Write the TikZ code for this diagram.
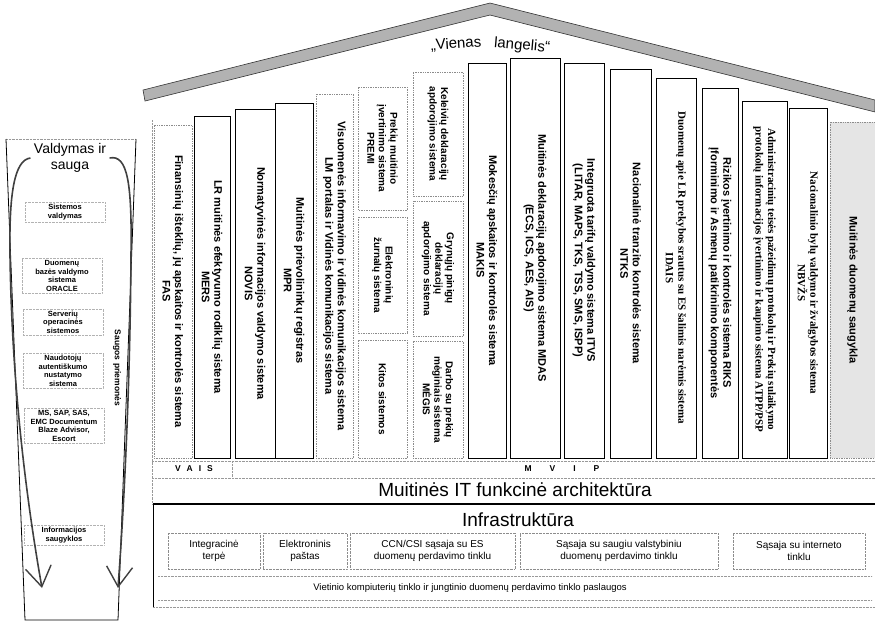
\documentclass[tikz,border=0pt]{standalone}
\usepackage{fontspec}
\setmainfont{Liberation Serif}
\setsansfont{Liberation Sans}
\usetikzlibrary{arrows.meta}
\tikzset{
  sysbox/.style={draw, line width=0.7pt, fill=white, rotate=-90, align=center, inner sep=1pt,
    font=\sffamily\bfseries\fontsize{11}{12.5}\selectfont},
  softbox/.style={sysbox, draw=black!45, densely dotted, line width=0.6pt},
  stackbox/.style={softbox, font=\sffamily\bfseries\fontsize{10}{11.5}\selectfont},
  serifbox/.style={sysbox, font=\rmfamily\bfseries\fontsize{11}{12.5}\selectfont},
  infbox/.style={draw=black!45, densely dotted, align=center, minimum height=36pt,
    font=\sffamily\fontsize{10}{12}\selectfont},
  ctlitem/.style={draw=black!30, densely dotted, align=center, minimum width=80pt, inner sep=2pt,
    font=\sffamily\bfseries\fontsize{7.5}{8.5}\selectfont},
  heading/.style={font=\sffamily\fontsize{19}{22}\selectfont, inner sep=0pt},
  guide/.style={draw=black!40, densely dotted},
  roof/.style={draw=black!80, fill=black!30, line width=0.6pt},
  bigarrow/.style={line width=1.6pt, draw=black!75,
    -{Straight Barb[length=20pt,width=26pt,line width=1.4pt]}},
}
\begin{document}
\begin{tikzpicture}[x=1pt,y=-1pt]
\useasboundingbox (0,0) rectangle (875,633);

% roof
\draw[roof] (143,90) -- (490,3) -- (875,100) -- (875,112) -- (490,15) -- (145,101) -- cycle;
\node[font=\sffamily\fontsize{15}{17}\selectfont, rotate=4] (vienas) at (456,44) {„Vienas};
\node[font=\sffamily\fontsize{15}{17}\selectfont, rotate=-5] (langelis) at (522,46) {langelis“};

% columns
\node[softbox, minimum width=333pt, minimum height=38pt] (fas) at (173,291.5) {Finansinių išteklių, jų apskaitos ir kontrolės sistema\\FAS};
\node[sysbox, minimum width=342pt, minimum height=36pt] (mers) at (212,287) {LR muitinės efektyvumo rodiklių sistema\\MERS};
\node[sysbox, minimum width=349pt, minimum height=40pt] (novis) at (255,283.5) {Normatyvinės informacijos valdymo sistema\\NOVIS};
\node[sysbox, minimum width=355pt, minimum height=38pt] (mpr) at (294,280.5) {Muitinės prievolininkų registras\\MPR};
\node[softbox, minimum width=364pt, minimum height=37pt] (portal) at (334.5,276) {Visuomenės informavimo ir vidinės komunikacijos sistema\\LM portalas ir Vidinės komunikacijos sistema};
\node[stackbox, minimum width=123pt, minimum height=49pt] (premi) at (382.5,148.5) {Prekių muitinio\\įvertinimo sistema\\PREMI};
\node[stackbox, minimum width=116pt, minimum height=49pt] (ezs) at (382.5,275) {Elektroninių\\žurnalų sistema};
\node[stackbox, minimum width=118pt, minimum height=49pt] (kitos) at (382.5,399) {Kitos sistemos};
\node[stackbox, minimum width=124pt, minimum height=50pt] (kel) at (438,134) {Keleivių deklaracijų\\apdorojimo sistema};
\node[stackbox, minimum width=135pt, minimum height=50pt] (gpd) at (438,268.5) {Grynųjų pinigų\\deklaracijų\\apdorojimo sistema};
\node[stackbox, minimum width=117pt, minimum height=50pt] (megis) at (438,399.5) {Darbo su prekių\\mėginiais sistema\\MĖGIS};
\node[sysbox, minimum width=395pt, minimum height=38pt] (makis) at (487,260.5) {Mokesčių apskaitos ir kontrolės sistema\\MAKIS};
\node[sysbox, minimum width=400pt, minimum height=50pt] (mdas) at (535,258) {Muitinės deklaracijų apdorojimo sistema MDAS\\(ECS, ICS, AES, AIS)};
\node[sysbox, minimum width=395pt, minimum height=40pt] (itvs) at (584,260.5) {Integruota tarifų valdymo sistema ITVS\\(LITAR, MAPS, TKS, TSS, SMS, ISPP)};
\node[sysbox, minimum width=389pt, minimum height=41pt] (ntks) at (630.5,263.5) {Nacionalinė tranzito kontrolės sistema\\NTKS};
\node[serifbox, minimum width=380pt, minimum height=40pt] (idais) at (676,268) {Duomenų apie LR prekybos srautus su ES šalimis narėmis sistema\\IDAIS};
\node[sysbox, minimum width=370pt, minimum height=36pt] (riks) at (720,273) {Rizikos įvertinimo ir kontrolės sistema RIKS\\Įforminimo ir Asmenų patikrinimo komponentės};
\node[serifbox, minimum width=357pt, minimum height=45pt] (atpp) at (764.5,279.5) {Administracinių teisės pažeidimų protokolų ir Prekių sulaikymo\\protokolų informacijos įvertinimo ir kaupimo sistema ATPP/PSP};
\node[serifbox, minimum width=350pt, minimum height=38pt] (nbvzs) at (808,283) {Nacionalinio bylų valdymo ir žvalgybos sistema\\NBVŽS};
\node[softbox, fill=black!10, minimum width=336pt, minimum height=45pt] (dwh) at (852.5,290) {Muitinės duomenų saugykla};

% groups under the columns
\draw[guide] (152,461) -- (875,461);
\draw[guide] (152,478) -- (875,478);
\draw[guide] (232,461) -- (232,478);
\draw[guide] (152,120) -- (152,504);
\node[font=\sffamily\bfseries\fontsize{8.5}{10}\selectfont] (vais) at (194,469) {V\hspace{6pt}A\hspace{6pt}I\hspace{6pt}S};
\node[font=\sffamily\bfseries\fontsize{8.5}{10}\selectfont] (mvip) at (562,469) {M\hspace{18pt}V\hspace{18pt}I\hspace{18pt}P};
\node[heading] (arch) at (515,490) {Muitinės IT funkcinė architektūra};

% infrastructure
\draw[line width=1.3pt] (153,504) -- (875,504);
\draw[line width=0.8pt] (153,504) -- (153,607);
\draw[guide] (153,607) -- (875,607);
\node[heading] (infra) at (518,520) {Infrastruktūra};
\node[infbox, minimum width=92pt] (integ) at (214,551) {Integracinė\\terpė};
\node[infbox, minimum width=84pt] (mail) at (305,551) {Elektroninis\\paštas};
\node[infbox, minimum width=165pt] (ccn) at (432.5,551) {CCN/CSI sąsaja su ES\\duomenų perdavimo tinklu};
\node[infbox, minimum width=198pt] (gov) at (619,551) {Sąsaja su saugiu valstybiniu\\duomenų perdavimo tinklu};
\node[infbox, minimum width=132pt] (web) at (799,551) {Sąsaja su interneto\\tinklu};
\draw[guide] (158,576) -- (872,576);
\draw[guide] (158,600) -- (872,600);
\node[font=\sffamily\fontsize{9.5}{11}\selectfont] (lan) at (470,588) {Vietinio kompiuterių tinklo ir jungtinio duomenų perdavimo tinklo paslaugos};

% control and security
\draw[guide] (6,139) -- (136,139);
\draw[line width=0.8pt] (6,139) -- (25,620) -- (118,620) -- (136,139);
\node[font=\sffamily\fontsize{14}{16}\selectfont, align=center] (vtitle) at (70,158) {Valdymas ir\\sauga};
\node[ctlitem] (sysval) at (65,212) {Sistemos\\valdymas};
\node[ctlitem] (dbms) at (62,276) {Duomenų\\bazės valdymo\\sistema\\ORACLE};
\node[ctlitem] (oss) at (63,322) {Serverių\\operacinės\\sistemos};
\node[ctlitem] (auth) at (63,371) {Naudotojų\\autentiškumo\\nustatymo\\sistema};
\node[ctlitem] (apps) at (64,426) {MS, SAP, SAS,\\EMC Documentum\\Blaze Advisor,\\Escort};
\node[ctlitem] (store) at (64,535) {Informacijos\\saugyklos};
\node[rotate=-90, font=\sffamily\bfseries\fontsize{8.5}{10}\selectfont] (secm) at (117,368) {Saugos priemonės};
\coordinate (lhead) at (42,588);
\coordinate (rhead) at (118,588);
\draw[bigarrow] (vtitle.west) .. controls (14,160) and (9,195) .. (10,255) .. controls (12,400) and (30,520) .. (lhead);
\draw[bigarrow] (vtitle.east) .. controls (128,154) and (132,185) .. (131,255) .. controls (130,400) and (123,520) .. (rhead);
\end{tikzpicture}
\end{document}
